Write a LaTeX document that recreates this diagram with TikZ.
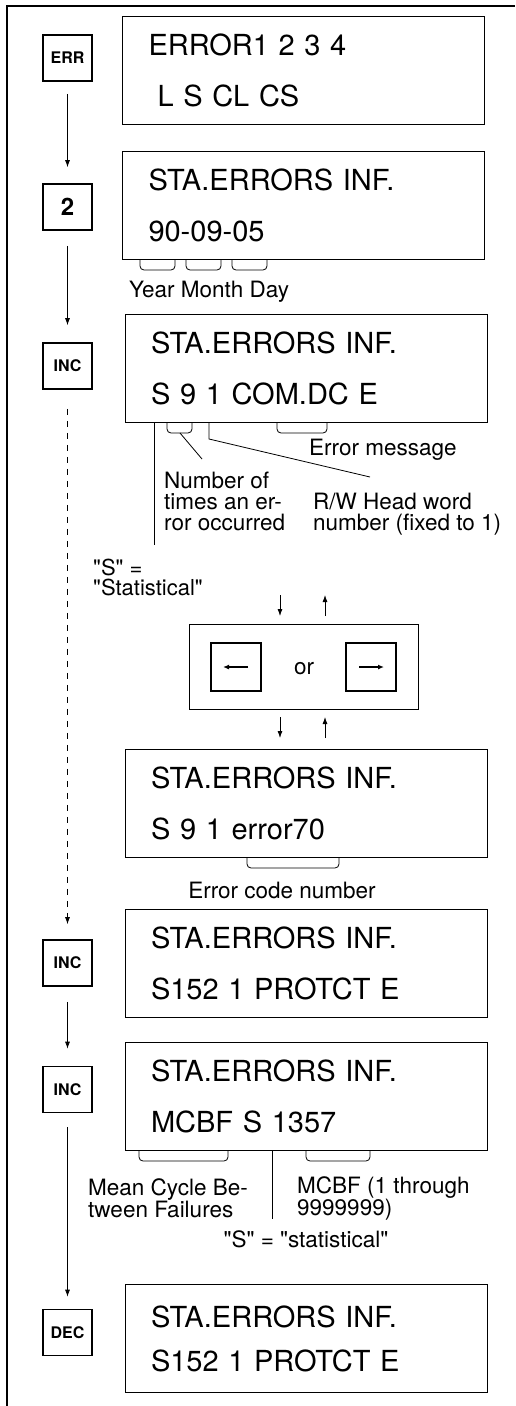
\documentclass[tikz,border=0pt]{standalone}
\usepackage{fontspec}
\setmainfont{TeX Gyre Heros}[Ligatures=TeXOff]
\usetikzlibrary{arrows.meta, positioning, calc}

\begin{document}
\begin{tikzpicture}[
    x=1pt, y=-1pt,
    key/.style={rectangle, draw, line width=1.6pt, minimum width=49pt, minimum height=46pt, inner sep=0pt, font=\fontsize{16}{18}\selectfont\bfseries},
    disp/.style={rectangle, draw, line width=0.9pt, minimum width=362pt, minimum height=108pt, text width=310pt, inner xsep=26pt, inner ysep=0pt, align=left, font=\fontsize{29}{51}\selectfont},
    note/.style={inner sep=0pt, align=left, font=\fontsize{22.5}{21}\selectfont},
    line/.style={draw, -{Latex[length=7pt, width=5pt]}, line width=0.8pt},
    brace/.style={draw, rounded corners=4pt, line width=0.8pt},
    lead/.style={draw, line width=0.8pt}
]
    \useasboundingbox (0,0) rectangle (515,1406);

    % Frame
    \draw [line width=2pt] (6.5,1406) -- (6.5,6) -- (515,6);

    % Keys
    \node (err) [key] at (67.5,58) {ERR};
    \node (two) [key, font=\fontsize{24}{28}\selectfont\bfseries] at (67.5,207) {2};
    \node (inc_a) [key] at (67.5,366) {INC};
    \node (inc_b) [key] at (67.5,963) {INC};
    \node (inc_c) [key] at (67.5,1089.5) {INC};
    \node (dec) [key] at (67.5,1332.5) {DEC};

    % Displays
    \node (disp_err) [disp] at (303.5,70) {ERROR1 2 3 4\\\hspace*{9pt}L S CL CS};
    \node (disp_date) [disp] at (303.5,205) {STA.ERRORS INF.\\90-09-05};
    \node (disp_msg) [disp] at (306,368) {STA.ERRORS INF.\\S 9 1 COM.DC E};
    \node (disp_code) [disp] at (306,803.5) {STA.ERRORS INF.\\S 9 1 error70};
    \node (disp_prot) [disp] at (306,963.5) {STA.ERRORS INF.\\S152 1 PROTCT E};
    \node (disp_mcbf) [disp] at (306,1096) {STA.ERRORS INF.\\MCBF S 1357};
    \node (disp_back) [disp] at (306,1338.5) {STA.ERRORS INF.\\[-7pt]S152 1 PROTCT E};

    % Cursor keys
    \node (sel) [rectangle, draw, line width=0.9pt, minimum width=229pt, minimum height=85pt] at (303.5,666.5) {};
    \node (left_key) [key, minimum width=50pt, minimum height=48pt] at (236,667) {};
    \node (right_key) [key, minimum width=50pt, minimum height=48pt] at (371,667) {};
    \node (or) [note] at (304,669) {or};
    \draw [-{Latex[length=6pt, width=5pt]}, line width=1.6pt] ([xshift=12pt]left_key.center) -- ([xshift=-13pt]left_key.center);
    \draw [-{Latex[length=6pt, width=5pt]}, line width=1.6pt] ([xshift=-12pt]right_key.center) -- ([xshift=13pt]right_key.center);

    \coordinate (dn_a) at (280,595);
    \coordinate (dn_b) at (280,616);
    \coordinate (up_a) at (325,616);
    \coordinate (up_b) at (325,595);
    \coordinate (dn_c) at (280,717);
    \coordinate (dn_d) at (280,738);
    \coordinate (up_c) at (325,738);
    \coordinate (up_d) at (325,717);

    % Labels
    \node (ymd) [note, anchor=west] at (129,292) {Year Month Day};
    \node (err_msg) [note, anchor=west] at (309,450) {Error message};
    \node (times) [note, anchor=west] at (164,501) {Number of\\times an er-\\ror occurred};
    \node (rw) [note, anchor=west] at (313,514.5) {R/W Head word\\number (fixed to 1)};
    \node (stat_a) [note, anchor=west, font=\fontsize{22}{20}\selectfont] at (93,577.5) {"S" =\\"Statistical"};
    \node (code_no) [note] at (282,890) {Error code number};
    \node (mean) [note, anchor=west] at (88,1198.5) {Mean Cycle Be-\\tween Failures};
    \node (range) [note, anchor=west] at (297,1198.5) {MCBF (1 through\\9999999)};
    \node (stat_b) [note] at (306,1239) {"S" =\hspace{6pt}"statistical"};

    % Brackets and leaders
    \draw [brace] (140,259) |- (175,270) -- (175,259);
    \draw [brace] (186,259) |- (221,270) -- (221,259);
    \draw [brace] (232,259) |- (267,270) -- (267,259);

    \draw [lead] (154,422) -- (154,545);
    \draw [brace] (167,422) |- (192,433) -- (192,422);
    \draw [lead] (180,433) -- (202,459);
    \draw [lead] (209,422) -- (209,439) -- (370,477);
    \draw [brace] (277,422) |- (327,433) -- (327,422);

    \draw [brace] (247,858) |- (339,868) -- (339,858);

    \draw [brace] (139,1150) |- (228,1161) -- (228,1150);
    \draw [brace] (306,1150) |- (370,1161) -- (370,1150);
    \draw [lead] (272,1150) -- (272,1219);

    % Connectors
    \draw [line, shorten <=12pt, shorten >=16pt] (err) -- (two);
    \draw [line, shorten <=15pt, shorten >=17pt] (two) -- (inc_a);
    \draw [line, dash pattern=on 6pt off 6pt, shorten <=19pt, shorten >=15pt] (inc_a) -- (inc_b);
    \draw [line, shorten <=15pt, shorten >=17pt] (inc_b) -- (inc_c);
    \draw [line, shorten <=14pt, shorten >=12pt] (inc_c) -- (dec);

    \draw [line] (dn_a) -- (dn_b);
    \draw [line] (up_a) -- (up_b);
    \draw [line] (dn_c) -- (dn_d);
    \draw [line] (up_c) -- (up_d);

\end{tikzpicture}
\end{document}
